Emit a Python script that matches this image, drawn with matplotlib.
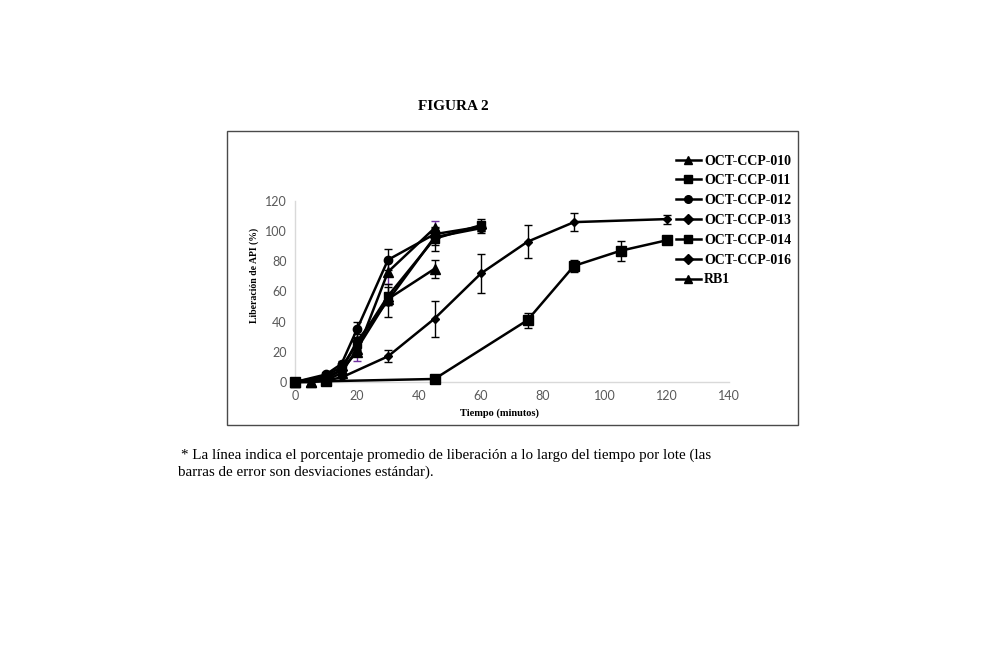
import matplotlib
matplotlib.use("Agg")
import matplotlib.pyplot as plt
from matplotlib.patches import Rectangle

# ---- data ----
labels = ["OCT-CCP-010", "OCT-CCP-011", "OCT-CCP-012", "OCT-CCP-013",
          "OCT-CCP-014", "OCT-CCP-016", "RB1"]

t_010 = [0, 5, 10, 15, 20, 30, 45]
y_010 = [0, 0, 2, 8, 20, 73, 102]
e_010 = [0, 0, 0.5, 1, 6, 8, 5]

t_011 = [0, 10, 15, 20, 30, 45, 60]
y_011 = [0, 4, 10, 25, 57, 95, 104]
e_011 = [0, 0.5, 2, 4, 6, 8, 4]

t_012 = [0, 10, 15, 20, 30, 45, 60]
y_012 = [0, 5, 12, 35, 81, 98, 103]
e_012 = [0, 0.5, 2, 5, 7, 4, 3]

t_013 = [0, 10, 15, 20, 30, 45, 60]
y_013 = [0, 3, 8, 27, 54, 96, 102]
e_013 = [0, 0.5, 2, 5, 11, 5, 3]

t_014 = [0, 10, 45, 75, 90, 105, 120]
y_014 = [0, 0.5, 2, 41, 77, 87, 94]
e_014 = [0, 0, 0.5, 5, 4, 6.5, 1]

t_016 = [0, 5, 10, 15, 30, 45, 60, 75, 90, 120]
y_016 = [0, 0.5, 1, 3, 17, 42, 72, 93, 106, 108]
e_016 = [0, 0, 0, 0.5, 4, 12, 13, 11, 6, 3]

t_rb1 = [0, 5, 10, 15, 20, 30, 45]
y_rb1 = [0, 0, 1, 6, 22, 55, 75]
e_rb1 = [0, 0, 0.5, 1, 4, 4, 6]

x_ticks = [0, 20, 40, 60, 80, 100, 120, 140]
y_ticks = [0, 20, 40, 60, 80, 100, 120]

series = [
    (t_010, y_010, e_010, "^", 6.5, "#7030A0"),
    (t_011, y_011, e_011, "s", 6.0, "black"),
    (t_012, y_012, e_012, "o", 6.0, "black"),
    (t_013, y_013, e_013, "D", 5.5, "black"),
    (t_014, y_014, e_014, "s", 6.5, "black"),
    (t_016, y_016, e_016, "D", 4.2, "black"),
    (t_rb1, y_rb1, e_rb1, "^", 6.5, "black"),
]

serif = ["Liberation Serif", "DejaVu Serif"]

fig = plt.figure(figsize=(10, 6.56), dpi=100)
fig.patch.set_facecolor("white")

# outer chart border
fig.patches.append(Rectangle((227 / 1000, 1 - 425 / 656), (798 - 227) / 1000,
                             (425 - 131) / 656, transform=fig.transFigure,
                             fill=False, edgecolor="#4a4a4a", linewidth=1.0))

ax = fig.add_axes([0.295, 1 - 382 / 656, 0.434, 181 / 656])
ax.set_xlim(0, 140)
ax.set_ylim(0, 120)
ax.set_xticks(x_ticks)
ax.set_yticks(y_ticks)
ax.tick_params(length=0, labelsize=9, labelcolor="#595959", pad=6)
for lab in ax.get_xticklabels() + ax.get_yticklabels():
    lab.set_fontfamily("Lato")
for s in ["top", "right"]:
    ax.spines[s].set_visible(False)
for s in ["left", "bottom"]:
    ax.spines[s].set_color("#d9d9d9")
    ax.spines[s].set_linewidth(1.0)

handles = []
for (t, y, e, m, ms, ecol), lab in zip(series, labels):
    ax.errorbar(t, y, yerr=e, fmt="none", ecolor=ecol,
                elinewidth=1.0, capsize=3, capthick=1.0, zorder=2, clip_on=False)
    h, = ax.plot(t, y, color="black", linewidth=1.8, marker=m, markersize=ms,
                 markerfacecolor="black", markeredgecolor="black", zorder=3,
                 clip_on=False, label=lab)
    handles.append(h)

leg = fig.legend(handles=handles, labels=labels, loc="upper left",
                 bbox_to_anchor=(0.670, 1 - 149 / 656), frameon=False,
                 handlelength=1.8, handletextpad=0.25, labelspacing=0.49,
                 borderaxespad=0, prop={"family": serif, "weight": "bold", "size": 10})
for lh in leg.get_lines():
    lh.set_markersize(5.5)

fig.text(0.500, 1 - 413 / 656, "Tiempo (minutos)", ha="center", va="center",
         family=serif, weight="bold", fontsize=7.5)
fig.text(0.254, 1 - 275 / 656, "Liberación de API (%)", ha="center", va="center",
         rotation=90, family=serif, weight="bold", fontsize=7.0)

fig.text(0.453, 1 - 107 / 656, "FIGURA 2", ha="center", va="center",
         family=serif, weight="bold", fontsize=11)

fig.text(0.181, 1 - 455 / 656,
         "* La línea indica el porcentaje promedio de liberación a lo largo del tiempo por lote (las",
         ha="left", va="center", family=serif, fontsize=10.8)
fig.text(0.178, 1 - 472 / 656, "barras de error son desviaciones estándar).",
         ha="left", va="center", family=serif, fontsize=10.8)

fig.savefig("out.png", dpi=100, facecolor="white")
